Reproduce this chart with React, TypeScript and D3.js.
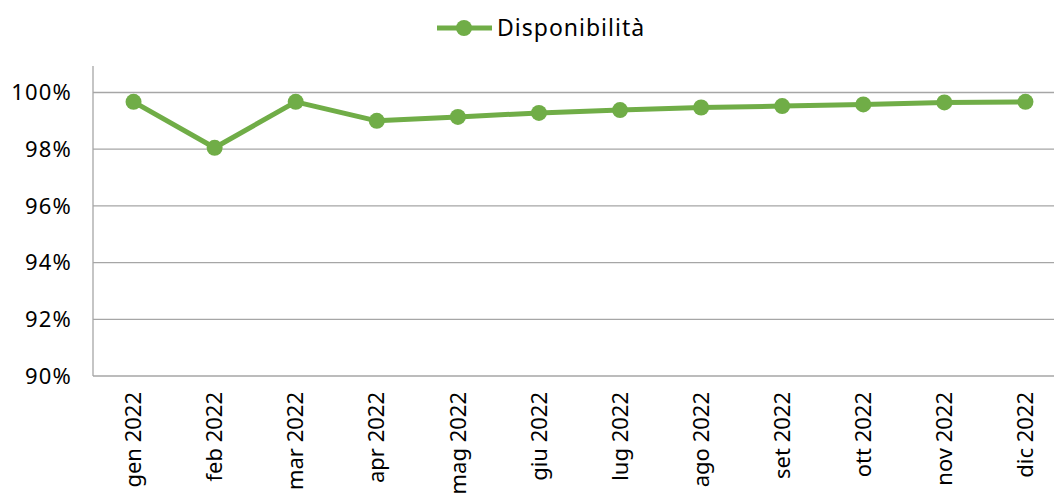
import React from "react";
import * as d3 from "d3";

const categories = ["gen 2022","feb 2022","mar 2022","apr 2022","mag 2022","giu 2022","lug 2022","ago 2022","set 2022","ott 2022","nov 2022","dic 2022"];
const values = [99.67, 98.05, 99.67, 99.0, 99.14, 99.28, 99.38, 99.47, 99.52, 99.58, 99.65, 99.67];
const yTicks = [90, 92, 94, 96, 98, 100];
const seriesName = "Disponibilità";

const W = 1054, H = 494;
const M = { left: 93, right: 1066, top: 92.5, bottom: 376 };
const GREEN = "#70AD47";
const FONT = "'Noto Sans', sans-serif";

export default function App() {
  const x = d3.scaleBand<string>().domain(categories).range([M.left, M.right]);
  const y = d3.scaleLinear().domain([90, 100]).range([M.bottom, M.top]);
  const line = d3.line<number>().x((_, i) => x(categories[i])! + x.bandwidth() / 2).y(d => y(d));
  return (
    <svg width={W} height={H} style={{ position: "absolute", left: 0, top: 0 }}>
      <rect width={W} height={H} fill="#fff" />
      {yTicks.map(t => (
        <g key={t}>
          <line x1={M.left} x2={M.right} y1={y(t)} y2={y(t)} stroke="#a6a6a6" strokeWidth={1.3} />
          <text x={72} y={y(t)} dy="0.35em" textAnchor="end" fontFamily={FONT} fontSize={22} letterSpacing={1.2} fill="#000">{t}%</text>
        </g>
      ))}
      <line x1={M.left} x2={M.left} y1={66} y2={M.bottom} stroke="#a6a6a6" strokeWidth={1.3} />
      {categories.map(c => {
        const cx = x(c)! + x.bandwidth() / 2;
        return (
          <text key={c} transform={`translate(${cx},${392}) rotate(-90)`} textAnchor="end" dy="0.35em" fontFamily={FONT} fontSize={22} fill="#000">{c}</text>
        );
      })}
      <path d={line(values)!} fill="none" stroke={GREEN} strokeWidth={5} strokeLinejoin="round" />
      {values.map((v, i) => (
        <circle key={i} cx={x(categories[i])! + x.bandwidth() / 2} cy={y(v)} r={8} fill={GREEN} />
      ))}
      <line x1={437} x2={492} y1={28} y2={28} stroke={GREEN} strokeWidth={5} />
      <circle cx={464} cy={28} r={8} fill={GREEN} />
      <text x={497} y={28} dy="0.35em" fontFamily={FONT} fontSize={23} letterSpacing={1} fill="#000">{seriesName}</text>
    </svg>
  );
}
